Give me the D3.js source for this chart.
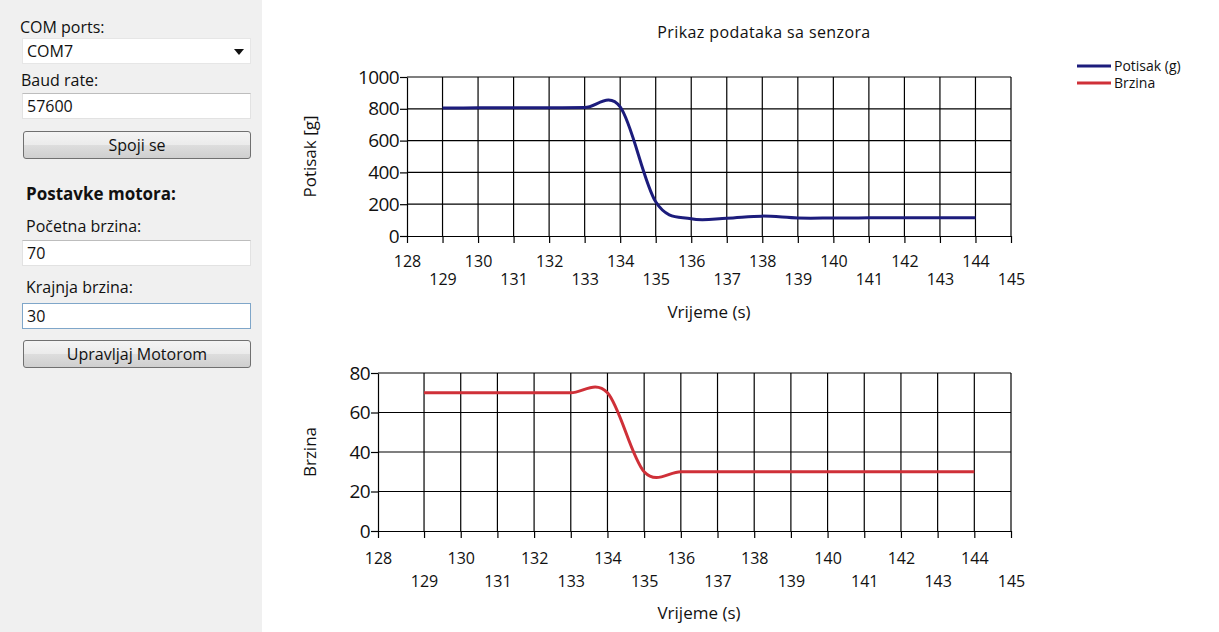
<!DOCTYPE html>
<html>
<head>
<meta charset="utf-8">
<title>Prikaz podataka sa senzora</title>
<script src="https://cdn.jsdelivr.net/npm/d3@7"></script>
<style>
  body { margin:0; background:#fff; font-family:"Open Sans", "Liberation Sans", Arial, sans-serif; }
  #panel { position:absolute; left:0; top:0; width:262px; height:632px; background:#f0f0f0; }
  .lbl { position:absolute; font-size:16px; line-height:20px; color:#111; }
  .box { position:absolute; left:22px; width:229px; height:26px; background:#fff;
         border:1px solid #e2e2e2; border-top-color:#bdbdbd; font-size:16px; line-height:24px;
         padding-left:4px; box-sizing:border-box; color:#111; }
  .btn { position:absolute; left:23px; width:228px; height:28px; box-sizing:border-box;
         border:1px solid #707070; border-radius:3px; font-size:16px; text-align:center; line-height:26px;
         background:linear-gradient(#f4f4f4, #ebebeb 50%, #dddddd 51%, #cfcfcf); color:#111; }
  #chart { position:absolute; left:0; top:0; }
  svg text { font-family:"Open Sans", "Liberation Sans", Arial, sans-serif; fill:#111; }
</style>
</head>
<body>
<div id="panel">
  <div class="lbl" style="left:20px;top:17px">COM ports:</div>
  <div class="box" style="top:38px;border-color:#e6e6e6">COM7
    <svg style="position:absolute;right:6px;top:10px" width="10" height="6"><path d="M0,0 L10,0 L5,6 Z" fill="#111"/></svg>
  </div>
  <div class="lbl" style="left:21px;top:70px">Baud rate:</div>
  <div class="box" style="top:93px">57600</div>
  <div class="btn" style="top:131px">Spoji se</div>
  <div class="lbl" style="left:26px;top:184px;font-weight:bold;font-size:17px">Postavke motora:</div>
  <div class="lbl" style="left:26px;top:216px">Početna brzina:</div>
  <div class="box" style="top:240px">70</div>
  <div class="lbl" style="left:26px;top:277px">Krajnja brzina:</div>
  <div class="box" style="top:303px;border-color:#7fa6c9">30</div>
  <div class="btn" style="top:340px">Upravljaj Motorom</div>
</div>
<svg id="chart" width="1219" height="632"></svg>
<script>
// sampled each second, drawn as spline
var time = [129,130,131,132,133,134,135,136,137,138,139,140,141,142,143,144];
var potisak = [805,806,806,807,808,812,215,108,112,125,113,113,114,115,114,115];
var brzina = [70,70,70,70,70,70,30,30,30,30,30,30,30,30,30,30];

var potisakTicks = [0,200,400,600,800,1000];
var brzinaTicks = [0,20,40,60,80];

var svg = d3.select("#chart");

svg.append("text").attr("x", 764).attr("y", 38).attr("text-anchor","middle")
  .attr("font-size", "16px").attr("letter-spacing", "0.4px").text("Prikaz podataka sa senzora");

function panel(opt){
  var x = d3.scaleLinear().domain(opt.xDomain).range([opt.left, 1011]);
  var y = d3.scaleLinear().domain([0, opt.yMax]).range([opt.bottom, opt.top]);
  var g = svg.append("g");

  // grid
  var xGrid = d3.range(129, 146);
  g.selectAll(".vg").data(xGrid).enter().append("line")
    .attr("x1", d => x(d)).attr("x2", d => x(d))
    .attr("y1", y(0)).attr("y2", y(opt.yMax))
    .attr("stroke", "#000").attr("stroke-width", 1.2);
  g.selectAll(".hg").data(opt.yTicks.slice(1)).enter().append("line")
    .attr("x1", x.range()[0]).attr("x2", x.range()[1])
    .attr("y1", d => y(d)).attr("y2", d => y(d))
    .attr("stroke", "#000").attr("stroke-width", 1.2);

  // y axis
  var ya = g.append("g").attr("transform", "translate(" + x.range()[0] + ",0)")
    .call(d3.axisLeft(y).tickValues(opt.yTicks).tickFormat(d3.format("d"))
      .tickSize(7).tickSizeOuter(0).tickPadding(1));
  ya.selectAll("text").attr("font-size", "19px").attr("letter-spacing", "-0.6px");
  ya.selectAll("line, path").attr("stroke", "#000").attr("stroke-width", 1.2);

  // x axis, labels alternate between two rows
  var xt = [opt.xDomain[0]].concat(d3.range(129, 146));
  var xa = g.append("g").attr("transform", "translate(0," + y(0) + ")")
    .call(d3.axisBottom(x).tickValues(xt).tickSize(7).tickSizeOuter(0)
      .tickFormat(d => Math.round(d)).tickPadding(0));
  xa.selectAll("text").attr("font-size", "16px").attr("y", 0)
    .attr("dy", d => (Math.round(d) % 2 ? opt.row2 : opt.row1) + 5.5);
  xa.selectAll("line, path").attr("stroke", "#000").attr("stroke-width", 1.2);

  g.append("text").attr("x", opt.titleX).attr("y", y(0) + opt.titleY + 6).attr("text-anchor", "middle")
    .attr("font-size", "17px").text("Vrijeme (s)");
  g.append("text").attr("transform", "translate(316," + ((y(0) + y(opt.yMax)) / 2) + ") rotate(-90)")
    .attr("text-anchor", "middle").attr("font-size", "17px").text(opt.yTitle);

  var line = d3.line().x((d, i) => x(time[i])).y(d => y(d)).curve(d3.curveCardinal.tension(0));
  g.append("path").datum(opt.values).attr("d", line)
    .attr("fill", "none").attr("stroke", opt.color).attr("stroke-width", 3);
}

panel({ xDomain:[128,145], left:407, top:77, bottom:236, yMax:1000, yTicks:potisakTicks,
        values:potisak, color:"#1c1c7c", yTitle:"Potisak [g]", row1:25, row2:43, titleX:709, titleY:76 });
panel({ xDomain:[127.745,145], left:378, top:373, bottom:531, yMax:80, yTicks:brzinaTicks,
        values:brzina, color:"#cf3038", yTitle:"Brzina", row1:27, row2:50, titleX:699, titleY:82 });

// legend
var legend = [["Potisak (g)", "#1c1c7c"], ["Brzina", "#cf3038"]];
legend.forEach(function(l, i){
  svg.append("line").attr("x1", 1077).attr("x2", 1111).attr("y1", 66 + i*17).attr("y2", 66 + i*17)
    .attr("stroke", l[1]).attr("stroke-width", 3);
  svg.append("text").attr("x", 1114).attr("y", 70.5 + i*17).attr("font-size", "14px").text(l[0]);
});
</script>
</body>
</html>
